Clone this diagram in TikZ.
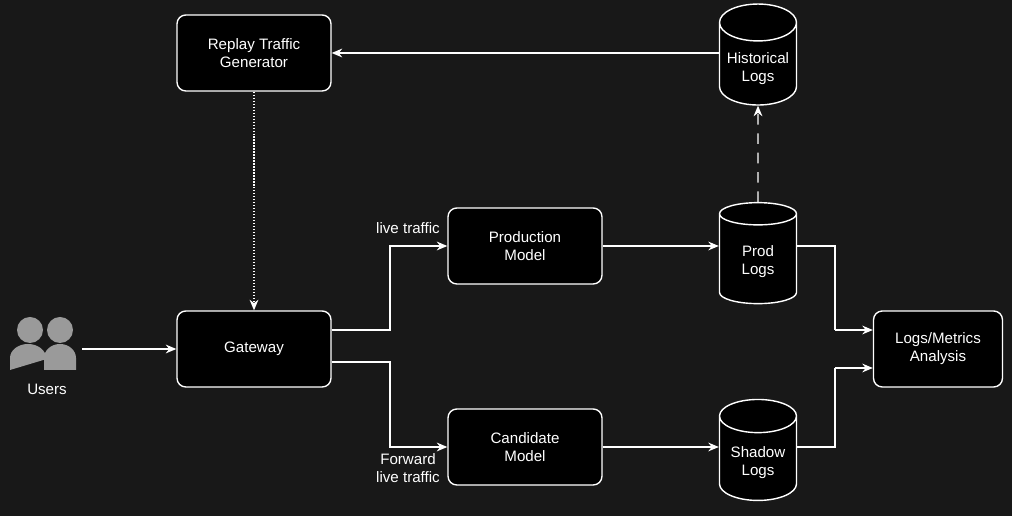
\documentclass[tikz,border=0pt]{standalone}
\usepackage{fontspec}
\setmainfont{Liberation Sans}
\usetikzlibrary{shapes.geometric,arrows.meta}
\definecolor{bg}{HTML}{181818}
\definecolor{usergray}{HTML}{9A9A9A}
\begin{document}
\begin{tikzpicture}[x=0.02cm,y=-0.02cm,
  font=\fontsize{8.6}{10.3}\selectfont,
  every node/.style={text=white},
  box/.style={draw=white, fill=black, rounded corners=5pt, line width=0.8pt,
    minimum width=3.08cm, minimum height=1.52cm, align=center},
  store/.style={cylinder, shape border rotate=90, aspect=0.5, draw=white, fill=black,
    line width=0.8pt, minimum width=1.54cm, minimum height=2.02cm, align=center},
  link/.style={draw=white, line width=0.7pt, -{Stealth[length=6pt,width=5pt]}}]
\fill[bg] (0,0) rectangle (1012,516);
\useasboundingbox (0,0) rectangle (1012,516);

\node[box] (replay) at (254,53) {Replay Traffic\\Generator};
\node[store] (hist) at (758,69) {Historical\\Logs};
\node[box] (prod) at (525,246) {Production\\Model};
\node[store] (prodlogs) at (758,262) {Prod\\Logs};
\node[box] (gateway) at (254,349) {Gateway};
\node[box] (cand) at (525,447) {Candidate\\Model};
\node[store] (shadow) at (758,463) {Shadow\\Logs};
\node[box, minimum width=2.58cm] (analysis) at (938,349) {Logs/Metrics\\Analysis};

% users icon
\fill[usergray] (60,330) circle (13);
\fill[usergray] (44,370) -- (44,358) arc[start angle=180,end angle=0,x radius=16,y radius=-14] -- (76,370) -- cycle;
\fill[usergray] (30,330) circle (13);
\fill[usergray] (10,370) -- (10,358) arc[start angle=180,end angle=0,x radius=18,y radius=-14] -- (50,370) -- (50,358) -- cycle;
\coordinate (users) at (82,349);
\node (userslbl) at (47,389) {Users};

\draw[link] (hist.west |- replay) -- (replay);
\draw[link, densely dotted] (replay) -- (gateway);
\draw[link, dash pattern=on 6pt off 5pt] (prodlogs.north) -- (hist.south);
\draw[link] (users) -- (gateway);
\draw[link] (gateway.east |- 0,330) -| (390,246) -- (prod);
\draw[link] (gateway.east |- 0,362) -| (390,447) -- (cand);
\node (live) at (408,228) {live traffic};
\node[align=center] (fwd) at (408,468) {Forward\\live traffic};
\draw[link] (prod) -- (prod -| prodlogs.west);
\draw[link] (cand) -- (cand -| shadow.west);
\draw[-, draw=white, line width=0.7pt] (prodlogs.east |- prod) -| (835,330);
\draw[link] (835,330) -- (analysis.west |- 0,330);
\draw[-, draw=white, line width=0.7pt] (shadow.east |- cand) -| (835,368);
\draw[link] (835,368) -- (analysis.west |- 0,368);
\end{tikzpicture}
\end{document}
